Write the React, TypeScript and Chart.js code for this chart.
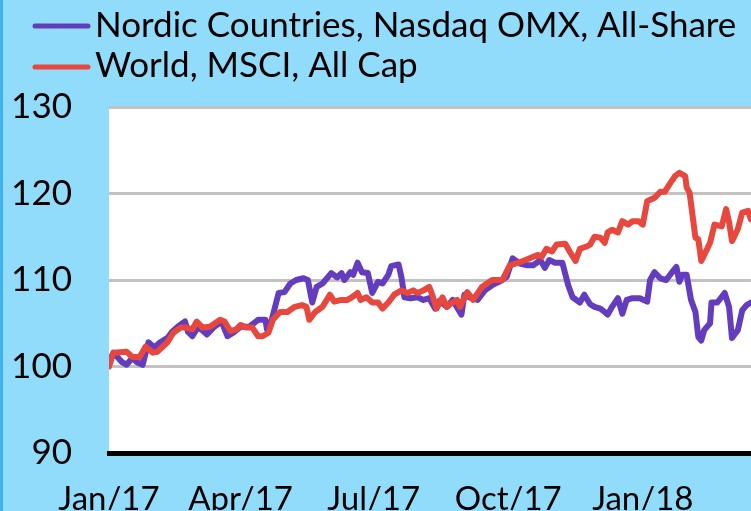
import React, { useEffect, useRef } from "react";
import { Chart, registerables } from "chart.js";

Chart.register(...registerables);

// ---- data (days since 1 Jan 2017, index values) ----
const seriesNames = ["Nordic Countries, Nasdaq OMX, All-Share", "World, MSCI, All Cap"];
const seriesColors = ["#643cbe", "#e8473d"];

const nordicDays = [
  0, 3, 9, 12, 16, 19, 23, 27, 31, 35, 40, 43, 47, 52, 54, 57, 61, 67, 72, 77, 81, 85, 90, 96,
  102, 107, 108, 111, 116, 120, 124, 128, 133, 136, 139, 142, 146, 152, 156, 159, 161, 165, 167,
  170, 173, 177, 180, 184, 187, 191, 193, 198, 200, 202, 206, 211, 215, 219, 223, 226, 231, 235,
  241, 243, 248, 252, 257, 262, 269, 272, 276, 281, 286, 290, 295, 298, 301, 305, 310, 314, 317,
  322, 325, 329, 332, 336, 339, 341, 344, 348, 351, 354, 358, 363, 368, 370, 373, 377, 381, 385,
  388, 390, 392, 395, 398, 401, 403, 405, 407, 411, 412, 416, 421, 424, 426, 430, 433, 436, 439,
];
const nordicValues = [
  100.5, 101.6, 100.5, 100.2, 101.0, 100.5, 100.2, 102.8, 102.2, 102.8, 103.3, 104.0, 104.6, 105.2,
  104.0, 103.5, 104.6, 103.7, 104.6, 105.2, 103.5, 103.9, 104.6, 104.6, 105.4, 105.4, 104.3, 105.2,
  108.5, 108.6, 109.6, 110.0, 110.2, 110.0, 107.4, 109.2, 109.6, 110.8, 110.3, 110.8, 110.0, 110.9,
  110.6, 112.0, 110.9, 110.8, 108.5, 109.8, 109.6, 110.6, 111.6, 111.8, 110.3, 108.0, 107.9, 108.0,
  107.7, 107.9, 106.7, 107.6, 106.9, 107.7, 106.0, 108.3, 107.9, 107.7, 108.8, 109.4, 110.0, 110.4,
  112.5, 111.9, 111.7, 111.7, 112.3, 111.4, 112.3, 112.0, 112.0, 109.4, 108.0, 107.4, 108.3, 107.2,
  106.9, 106.7, 106.3, 106.0, 106.9, 107.9, 106.1, 107.7, 107.9, 107.9, 107.5, 110.0, 110.9, 110.2,
  110.0, 110.9, 111.5, 109.8, 110.6, 110.6, 107.7, 106.3, 103.4, 103.0, 104.2, 105.0, 107.4, 107.4,
  108.5, 106.9, 103.3, 104.2, 106.5, 107.1, 107.4,
];

const worldDays = [
  0, 3, 12, 16, 21, 25, 30, 33, 40, 44, 49, 53, 57, 60, 64, 69, 76, 79, 83, 87, 90, 94, 98, 102,
  105, 109, 112, 117, 122, 127, 132, 135, 137, 141, 146, 151, 154, 159, 163, 166, 170, 172, 176,
  180, 184, 187, 191, 195, 200, 204, 208, 211, 215, 219, 221, 224, 228, 231, 234, 238, 240, 245,
  249, 255, 262, 269, 274, 280, 286, 293, 296, 299, 303, 306, 312, 315, 319, 322, 327, 329, 332,
  336, 339, 341, 344, 348, 351, 355, 358, 362, 365, 368, 373, 377, 380, 383, 387, 390, 394, 395,
  397, 401, 403, 405, 409, 411, 414, 419, 422, 424, 426, 430, 433, 437, 439,
];
const worldValues = [
  100.0, 101.6, 101.7, 101.1, 101.1, 102.3, 101.6, 101.7, 102.8, 103.9, 104.5, 104.5, 104.3, 105.2,
  104.5, 104.6, 105.4, 105.2, 104.1, 104.3, 104.8, 104.5, 104.5, 103.5, 103.5, 103.9, 105.4, 106.3,
  106.3, 106.9, 107.1, 106.9, 105.4, 106.3, 106.9, 108.3, 107.5, 107.7, 107.7, 108.0, 108.5, 107.7,
  108.0, 107.4, 107.4, 106.7, 107.4, 108.3, 108.8, 108.5, 108.8, 108.5, 108.8, 109.2, 108.3, 106.7,
  108.0, 106.9, 107.3, 107.7, 106.9, 108.6, 107.7, 109.2, 110.0, 110.0, 111.7, 112.0, 112.4, 112.9,
  112.7, 113.6, 113.3, 114.1, 114.2, 113.3, 112.2, 113.6, 113.9, 114.1, 115.0, 114.9, 114.3, 115.5,
  115.8, 115.5, 116.8, 116.4, 116.8, 116.8, 116.4, 119.1, 119.5, 120.2, 120.2, 121.0, 122.0, 122.4,
  122.0, 120.7, 120.1, 114.9, 114.7, 112.2, 113.6, 114.3, 116.4, 116.2, 118.2, 116.7, 114.5, 115.9,
  117.8, 118.0, 117.0,
];

const tickDays = [0, 90, 181, 273, 365];
const tickLabels = ["Jan/17", "Apr/17", "Jul/17", "Oct/17", "Jan/18"];
const yTicks = [90, 100, 110, 120, 130];

const BG = "#92dcfb";
const STRIPE = "#3fb1ef";

const backgroundPlugin = {
  id: "bgPlugin",
  beforeDraw(chart: any) {
    const { ctx, width, height, chartArea } = chart;
    ctx.save();
    ctx.fillStyle = BG;
    ctx.fillRect(0, 0, width, height);
    ctx.fillStyle = STRIPE;
    ctx.fillRect(0, 0, 3, height);
    ctx.fillStyle = "#ffffff";
    ctx.fillRect(chartArea.left, chartArea.top, chartArea.right - chartArea.left, chartArea.bottom - chartArea.top);
    ctx.restore();
  },
};

const legendPlugin = {
  id: "customLegend",
  afterDraw(chart: any) {
    const { ctx } = chart;
    const rows = [
      { lineY: 26, baseY: 37 },
      { lineY: 67, baseY: 77 },
    ];
    ctx.save();
    chart.data.datasets.forEach((ds: any, i: number) => {
      const r = rows[i];
      ctx.strokeStyle = ds.borderColor;
      ctx.lineWidth = 5;
      ctx.lineCap = "round";
      ctx.beginPath();
      ctx.moveTo(35, r.lineY);
      ctx.lineTo(88, r.lineY);
      ctx.stroke();
      ctx.fillStyle = "#000";
      ctx.font = "35px Lato";
      ctx.textBaseline = "alphabetic";
      ctx.textAlign = "left";
      ctx.fillText(ds.label, 95, r.baseY);
    });
    ctx.restore();
  },
};

export default function App() {
  const ref = useRef<HTMLCanvasElement | null>(null);

  useEffect(() => {
    if (!ref.current) return;
    const chart = new Chart(ref.current, {
      type: "line",
      data: {
        datasets: [
          {
            label: seriesNames[0],
            data: nordicDays.map((d, i) => ({ x: d, y: nordicValues[i] })),
            borderColor: seriesColors[0],
            backgroundColor: seriesColors[0],
            borderWidth: 6,
            pointRadius: 0,
            tension: 0,
            borderJoinStyle: "round",
            borderCapStyle: "round",
            order: 1,
          },
          {
            label: seriesNames[1],
            data: worldDays.map((d, i) => ({ x: d, y: worldValues[i] })),
            borderColor: seriesColors[1],
            backgroundColor: seriesColors[1],
            borderWidth: 6,
            pointRadius: 0,
            tension: 0,
            borderJoinStyle: "round",
            borderCapStyle: "round",
            order: 0,
          },
        ],
      },
      options: {
        animation: false,
        responsive: false,
        maintainAspectRatio: false,
        layout: { padding: { top: 107, left: 0, right: 0, bottom: 0 } },
        plugins: { legend: { display: false }, tooltip: { enabled: false } },
        scales: {
          x: {
            type: "linear",
            min: 0,
            max: 439,
            afterBuildTicks: (scale: any) => {
              scale.ticks = tickDays.map((v) => ({ value: v }));
            },
            afterFit: (scale: any) => {
              scale.height = 57;
            },
            ticks: {
              autoSkip: false,
              maxRotation: 0,
              minRotation: 0,
              padding: 27,
              color: "#000",
              font: { family: "Lato", size: 33 },
              callback: (v: any) => {
                const idx = tickDays.indexOf(Number(v));
                return idx >= 0 ? tickLabels[idx] : "";
              },
            },
            grid: { display: false, drawTicks: false },
            border: { display: true, color: "#000", width: 5 },
          },
          y: {
            min: 90,
            max: 130,
            afterBuildTicks: (scale: any) => {
              scale.ticks = yTicks.map((v) => ({ value: v }));
            },
            afterFit: (scale: any) => {
              scale.width = 109;
            },
            ticks: {
              padding: 37,
              color: "#000",
              font: { family: "Lato", size: 35 },
            },
            grid: {
              drawTicks: false,
              lineWidth: 3,
              color: (ctx: any) => (ctx.tick && ctx.tick.value === 90 ? "rgba(0,0,0,0)" : "#c2c2c2"),
            },
            border: { display: false },
          },
        },
      },
      plugins: [backgroundPlugin, legendPlugin],
    });
    return () => chart.destroy();
  }, []);

  return (
    <div style={{ position: "fixed", left: 0, top: 0, width: 751, height: 511, overflow: "hidden" }}>
      <canvas ref={ref} width={751} height={511} style={{ display: "block" }} />
    </div>
  );
}
